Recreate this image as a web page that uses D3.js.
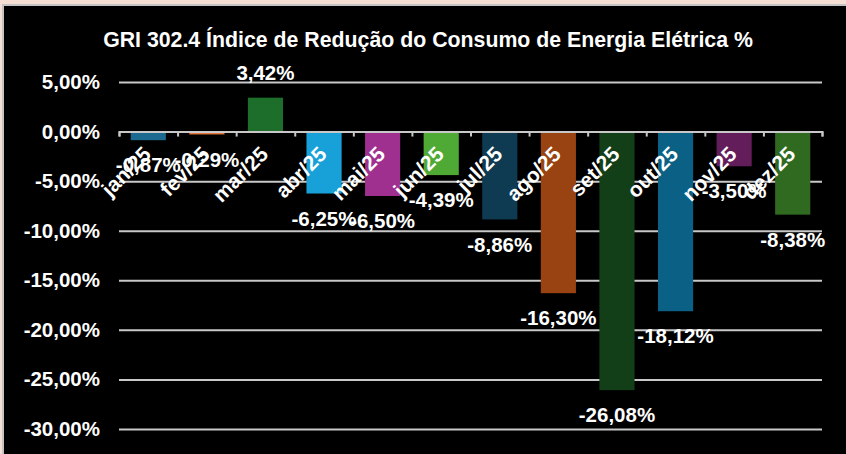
<!DOCTYPE html>
<html>
<head>
<meta charset="utf-8">
<script src="https://cdn.jsdelivr.net/npm/d3@7"></script>
<style>
  body { margin: 0; background: #f5ded4; }
  svg { display: block; }
  text { font-family: "Liberation Sans", Arial, sans-serif; font-weight: bold; fill: #fff; }
</style>
</head>
<body>
<div id="chart"></div>
<script>
// chart data
var months = ["jan/25", "fev/25", "mar/25", "abr/25", "mai/25", "jun/25",
              "jul/25", "ago/25", "set/25", "out/25", "nov/25", "dez/25"];
var values = [-0.87, -0.29, 3.42, -6.25, -6.50, -4.39, -8.86, -16.30, -26.08, -18.12, -3.50, -8.38];
var barColors = ["#1d6a91", "#e8773c", "#1d6e2a", "#17a1d8", "#a0308f", "#4faa35",
                 "#0e3a52", "#984311", "#133f18", "#0b6185", "#631d5b", "#2f6a20"];
var yTicks = [5, 0, -5, -10, -15, -20, -25, -30];
var title = "GRI 302.4 Índice de Redução do Consumo de Energia Elétrica %";

var W = 846, H = 454;
var margin = { top: 82, right: 24, bottom: 25, left: 119 };
var width = W - margin.left - margin.right,
    height = H - margin.top - margin.bottom;

// pt-BR style numbers with a plain hyphen as minus
var locale = d3.formatLocale({ decimal: ",", thousands: ".", grouping: [3], currency: ["", ""], minus: "-" });
var fmt = function(v) { return locale.format(".2f")(v) + "%"; };

var svg = d3.select("#chart").append("svg")
    .attr("width", W)
    .attr("height", H);

// black panel with thin grey edge
svg.append("rect")
    .attr("x", 3).attr("y", 5)
    .attr("width", W).attr("height", H)
    .attr("fill", "#000")
    .attr("stroke", "#c4c4c4")
    .attr("stroke-width", 2);

svg.append("text")
    .attr("x", 428).attr("y", 47)
    .attr("text-anchor", "middle")
    .style("font-size", "21.3px")
    .text(title);

var g = svg.append("g")
    .attr("transform", "translate(" + margin.left + "," + margin.top + ")");

var x = d3.scaleBand().domain(months).range([0, width])
    .paddingInner(0.4).paddingOuter(0.2);
var xb = d3.scaleLinear().domain([0, months.length]).range([0, width]);
var y = d3.scaleLinear().domain([-30, 5]).range([height, 0]);

// gridlines + y labels
var yAxis = d3.axisLeft(y).tickValues(yTicks).tickSize(-width).tickPadding(19).tickFormat(fmt);
g.append("g").attr("class", "y-axis").call(yAxis)
    .call(function(s) {
        s.select(".domain").remove();
        s.selectAll("line").attr("stroke", "#c8c8c8").attr("stroke-width", 2);
        s.selectAll("text").style("font-size", "20.5px").attr("fill", "#fff");
    });

// bars
g.selectAll("rect.bar").data(values).enter().append("rect")
    .attr("class", "bar")
    .attr("x", function(d, i) { return x(months[i]); })
    .attr("width", x.bandwidth())
    .attr("y", function(d) { return y(Math.max(0, d)); })
    .attr("height", function(d) { return Math.abs(y(d) - y(0)); })
    .attr("fill", function(d, i) { return barColors[i]; });

// category axis at zero, ticks on boundaries
var xAxis = d3.axisBottom(xb).tickValues(d3.range(months.length + 1)).tickSize(5).tickFormat("");
g.append("g").attr("class", "x-axis")
    .attr("transform", "translate(0," + y(0) + ")")
    .call(xAxis)
    .call(function(s) {
        s.selectAll("path, line").attr("stroke", "#c8c8c8").attr("stroke-width", 2);
    });

// rotated month labels
g.selectAll("text.month").data(months).enter().append("text")
    .attr("class", "month")
    .attr("text-anchor", "end")
    .style("font-size", "21px")
    .attr("transform", function(d) {
        return "translate(" + (x(d) + x.bandwidth() / 2 + 4) + "," + (y(0) + 24) + ") rotate(-45)";
    })
    .text(function(d) { return d; });

// value labels
g.selectAll("text.val").data(values).enter().append("text")
    .attr("class", "val")
    .attr("text-anchor", "middle")
    .attr("dy", "0.35em")
    .style("font-size", "20.5px")
    .attr("x", function(d, i) { return x(months[i]) + x.bandwidth() / 2; })
    .attr("y", function(d) { return y(d) + (d < 0 ? 25 : -25); })
    .text(fmt);
</script>
</body>
</html>
